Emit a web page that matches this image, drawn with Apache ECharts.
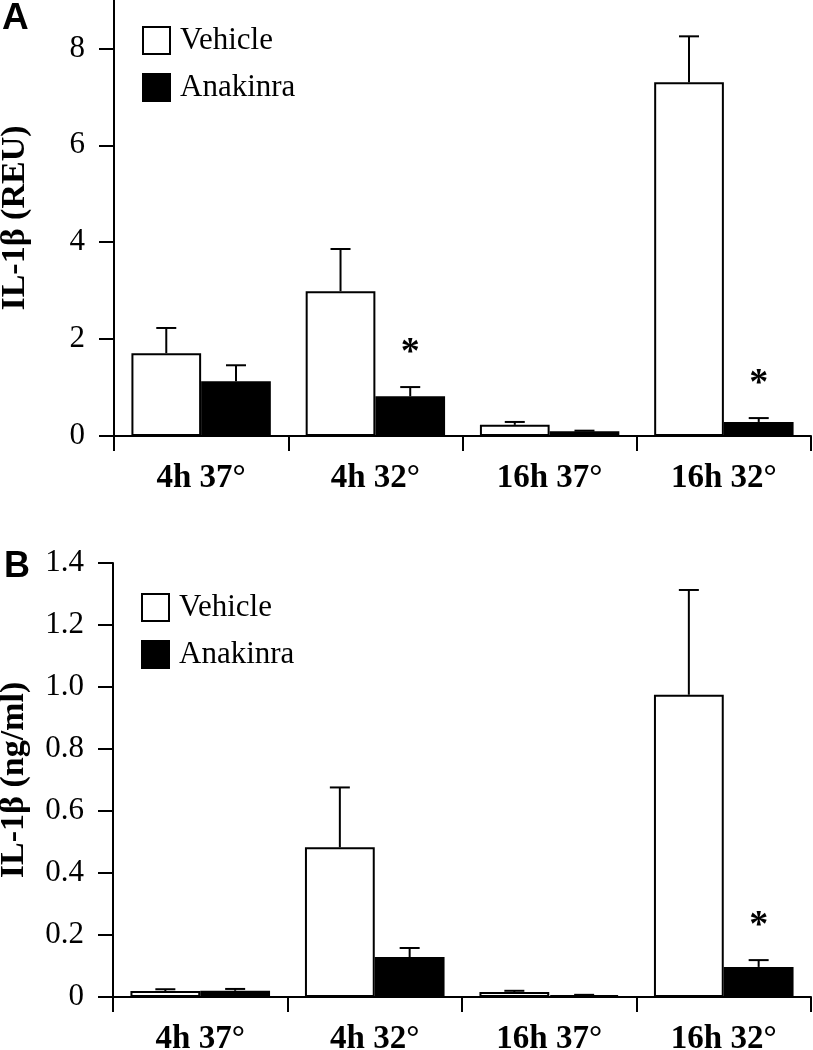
<!DOCTYPE html>
<html>
<head>
<meta charset="utf-8">
<script src="https://cdn.jsdelivr.net/npm/echarts@6/dist/echarts.min.js"></script>
<style>
html,body{margin:0;padding:0;background:#fff;}
#chart{width:813px;height:1050px;}
</style>
</head>
<body>
<div id="chart"></div>
<script>
// ---- data ----
const categories = ['4h 37°', '4h 32°', '16h 37°', '16h 32°'];
const seriesNames = ['Vehicle', 'Anakinra'];

// Panel A: IL-1β (REU)
const vehicleA = [1.71, 2.99, 0.23, 7.30];
const vehicleA_sem = [0.52, 0.87, 0.06, 0.95];
const anakinraA = [1.13, 0.82, 0.10, 0.29];
const anakinraA_sem = [0.33, 0.19, 0.01, 0.08];
const anakinraA_sig = [0, 1, 0, 1];
const yTicksA = [0, 2, 4, 6, 8];

// Panel B: IL-1β (ng/ml)
const vehicleB = [0.019, 0.483, 0.016, 0.975];
const vehicleB_sem = [0.006, 0.193, 0.004, 0.338];
const anakinraB = [0.020, 0.129, 0.006, 0.097];
const anakinraB_sem = [0.006, 0.029, 0.001, 0.022];
const anakinraB_sig = [0, 0, 0, 1];
const yTicksB = [0, 0.2, 0.4, 0.6, 0.8, 1.0, 1.2, 1.4];

const noSig = [0, 0, 0, 0];

// ---- chart ----
const SERIF = 'Liberation Serif';
const BAR_FRAC = 0.4;

function errSeries(name, gi, vals, sems, sig, side) {
  return {
    type: 'custom',
    name: name,
    xAxisIndex: gi, yAxisIndex: gi,
    z: 5,
    silent: true,
    data: vals.map((v, i) => [i, v, sems[i], sig[i]]),
    renderItem: function (params, api) {
      const c = api.value(0), v = api.value(1), e = api.value(2), s = api.value(3);
      const bw = api.size([1, 0])[0] * BAR_FRAC;
      const base = api.coord([c, v]);
      const top = api.coord([c, v + e]);
      const x = base[0] + side * bw / 2;
      const capHalf = 10;
      const children = [
        { type: 'line', shape: { x1: x, y1: base[1], x2: x, y2: top[1] }, style: { stroke: '#000', lineWidth: 2 } },
        { type: 'line', shape: { x1: x - capHalf, y1: top[1], x2: x + capHalf, y2: top[1] }, style: { stroke: '#000', lineWidth: 2 } }
      ];
      if (s) {
        children.push({ type: 'text', style: { text: '*', x: x, y: top[1] - 34, font: 'bold 38px ' + SERIF, align: 'center', verticalAlign: 'middle', fill: '#000' } });
      }
      return { type: 'group', children: children };
    }
  };
}

function barSeries(name, gi, vals, fill) {
  return {
    type: 'bar',
    name: name,
    xAxisIndex: gi, yAxisIndex: gi,
    data: vals,
    barWidth: (BAR_FRAC * 100) + '%',
    barGap: '0%',
    itemStyle: { color: fill, borderColor: '#000', borderWidth: 2 },
    emphasis: { disabled: true },
    z: 3
  };
}

const legendCommon = {
  orient: 'vertical',
  icon: 'rect',
  itemWidth: 27,
  itemHeight: 27,
  itemGap: 16,
  padding: 0,
  selectedMode: false,
  textStyle: { fontFamily: SERIF, fontSize: 31, color: '#000', padding: [0, 0, 0, 5] },
  data: [
    { name: 'Vehicle', itemStyle: { color: '#fff', borderColor: '#000', borderWidth: 2 } },
    { name: 'Anakinra', itemStyle: { color: '#000', borderColor: '#000', borderWidth: 2 } }
  ]
};

function xAxisCfg(gi) {
  return {
    type: 'category',
    gridIndex: gi,
    data: categories,
    boundaryGap: true,
    axisLine: { lineStyle: { color: '#000', width: 2 } },
    axisTick: { show: true, length: 15, inside: false, lineStyle: { color: '#000', width: 2 } },
    axisLabel: { color: '#000', fontFamily: SERIF, fontWeight: 'bold', fontSize: 33, margin: 26, interval: 0 },
    splitLine: { show: false }
  };
}

function yAxisCfg(gi, name, max, interval, ticks, fmt) {
  return {
    type: 'value',
    gridIndex: gi,
    min: 0, max: max, interval: interval,
    name: name,
    nameLocation: 'middle',
    nameRotate: 90,
    nameGap: 82,
    nameTextStyle: { color: '#000', fontFamily: SERIF, fontWeight: 'bold', fontSize: 34 },
    axisLine: { show: true, lineStyle: { color: '#000', width: 2 } },
    axisTick: { show: true, length: 15, inside: false, lineStyle: { color: '#000', width: 2 }, customValues: ticks },
    axisLabel: { color: '#000', fontFamily: SERIF, fontSize: 31, margin: 29, customValues: ticks, formatter: fmt },
    splitLine: { show: false }
  };
}

const option = {
  backgroundColor: '#fff',
  animation: false,
  grid: [
    { left: 114, right: 2, top: 0, height: 436, containLabel: false, outerBoundsMode: 'none' },
    { left: 113, right: 2, top: 563, height: 434, containLabel: false, outerBoundsMode: 'none' }
  ],
  legend: [
    Object.assign({}, legendCommon, { left: 142, top: 25 }),
    Object.assign({}, legendCommon, { left: 141, top: 592 })
  ],
  xAxis: [xAxisCfg(0), xAxisCfg(1)],
  yAxis: [
    yAxisCfg(0, 'IL-1β (REU)', 9, 1, yTicksA, v => String(v)),
    yAxisCfg(1, 'IL-1β (ng/ml)', 1.4, 0.2, yTicksB, v => (v === 0 ? '0' : v.toFixed(1)))
  ],
  series: [
    barSeries('Vehicle', 0, vehicleA, '#fff'),
    barSeries('Anakinra', 0, anakinraA, '#000'),
    errSeries('errVA', 0, vehicleA, vehicleA_sem, noSig, -1),
    errSeries('errAA', 0, anakinraA, anakinraA_sem, anakinraA_sig, 1),
    barSeries('Vehicle', 1, vehicleB, '#fff'),
    barSeries('Anakinra', 1, anakinraB, '#000'),
    errSeries('errVB', 1, vehicleB, vehicleB_sem, noSig, -1),
    errSeries('errAB', 1, anakinraB, anakinraB_sem, anakinraB_sig, 1)
  ],
  graphic: [
    { type: 'text', left: 2, top: 0, style: { text: 'A', font: 'bold 37px Liberation Sans', fill: '#000' } },
    { type: 'text', left: 4, top: 549, style: { text: 'B', font: 'bold 36px Liberation Sans', fill: '#000' } }
  ]
};

const chart = echarts.init(document.getElementById('chart'), null, { renderer: 'canvas' });
chart.setOption(option);
</script>
</body>
</html>
